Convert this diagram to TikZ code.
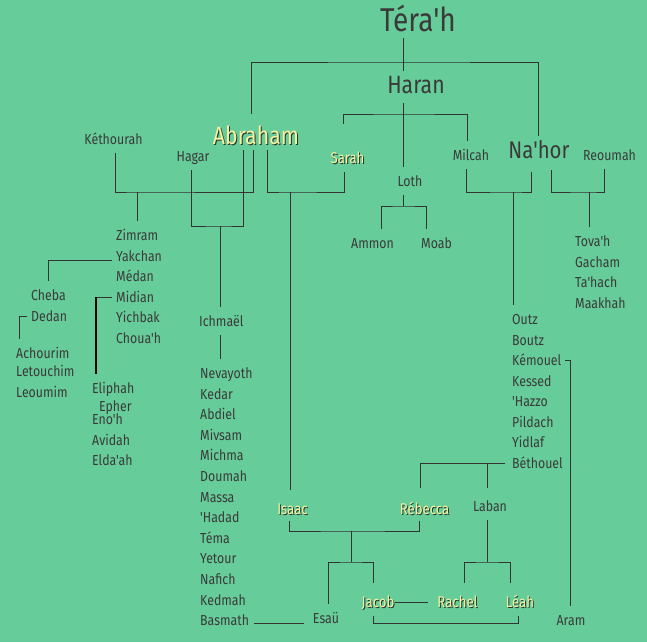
\documentclass[tikz,border=0pt]{standalone}
\usepackage{fontspec}
\setmainfont{Fira Sans}[FakeStretch=0.85,Ligatures=TeXOff]
\usetikzlibrary{positioning}
\definecolor{bgGreen}{HTML}{66CC99}
\definecolor{txtGray}{HTML}{3A3A3A}
\definecolor{lnGray}{HTML}{333333}
\definecolor{paleGold}{HTML}{F6F2A2}
\definecolor{shadeGray}{HTML}{26352A}
\newcommand\goldtext[1]{\makebox[0pt][l]{\hspace{1pt}\raisebox{-1pt}{\textcolor{shadeGray}{#1}}}\textcolor{paleGold}{#1}}
\tikzset{
    person/.style={font=\fontsize{14.5}{15}\selectfont, text=txtGray, inner xsep=0pt, inner ysep=9pt,
                 text height=10pt, text depth=0pt, anchor=base},
    kid/.style={person, anchor=base west},
    gold/.style={person, font=\fontsize{15.5}{16}\selectfont},
    big/.style={person, font=\fontsize{25}{26}\selectfont, text height=16pt, inner ysep=6pt},
    link/.style={draw=lnGray, line width=0.9pt},
    thick link/.style={draw=black, line width=1.8pt}
}
\begin{document}
\begin{tikzpicture}[x=1pt,y=-1pt]
\fill[bgGreen] (0,0) rectangle (647,642);
\useasboundingbox (0,0) rectangle (647,642);
% first generations
\node[big,font=\fontsize{33}{34}\selectfont] (tera) at (418,32) {Téra'h};
\node[big] (haran) at (416,93) {Haran};
\node[big] (abraham) at (256,144) {\goldtext{Abraham}};
\node[big,font=\fontsize{24}{25}\selectfont] (nahor) at (539,158) {Na'hor};
\node[person] (keth) at (113.5,144) {Kéthourah};
\node[person] (hagar) at (193,161) {Hagar};
\node[gold] (sarah) at (347.5,163) {\goldtext{Sarah}};
\node[person] (loth) at (410,186) {Loth};
\node[person] (milcah) at (471,160) {Milcah};
\node[person] (reoumah) at (609.5,160) {Reoumah};
\node[person] (ammon) at (372.5,248) {Ammon};
\node[person] (moab) at (436.5,248) {Moab};
% sons of Kethourah
\node[kid] (zimram) at (116,240) {Zimram};
\node[kid] (yakchan) at (116,261) {Yakchan};
\node[kid] (medan) at (116,281) {Médan};
\node[kid] (midian) at (116,302) {Midian};
\node[kid] (yichbak) at (116,322) {Yichbak};
\node[kid] (chouah) at (116,343) {Choua'h};
\node[kid] (cheba) at (31,300) {Cheba};
\node[kid] (dedan) at (31,321) {Dedan};
\node[kid] (achourim) at (16,358) {Achourim};
\node[kid] (letouchim) at (16,376) {Letouchim};
\node[kid] (leoumim) at (16,397) {Leoumim};
\node[kid] (eliphah) at (92,393) {Eliphah};
\node[kid] (epher) at (99,411) {Epher};
\node[kid] (enoh) at (92,424) {Eno'h};
\node[kid] (avidah) at (92,445) {Avidah};
\node[kid] (eldaah) at (92,465) {Elda'ah};
% sons of Ichmael
\node[kid] (ichmael) at (199,326) {Ichmaël};
\node[kid] (nevayoth) at (200,378) {Nevayoth};
\node[kid] (kedar) at (200,399) {Kedar};
\node[kid] (abdiel) at (200,419) {Abdiel};
\node[kid] (mivsam) at (200,440) {Mivsam};
\node[kid] (michma) at (200,460) {Michma};
\node[kid] (doumah) at (200,481) {Doumah};
\node[kid] (massa) at (200,502) {Massa};
\node[kid] (hadad) at (200,522) {'Hadad};
\node[kid] (tema) at (200,543) {Téma};
\node[kid] (yetour) at (200,563) {Yetour};
\node[kid] (nafich) at (200,584) {Nafich};
\node[kid] (kedmah) at (200,605) {Kedmah};
\node[kid] (basmath) at (200,625) {Basmath};
% sons of Nahor
\node[kid] (outz) at (512,324) {Outz};
\node[kid] (boutz) at (512,345) {Boutz};
\node[kid] (kemouel) at (512,365) {Kémouel};
\node[kid] (kessed) at (512,386) {Kessed};
\node[kid] (hazzo) at (512,406) {'Hazzo};
\node[kid] (pildach) at (512,427) {Pildach};
\node[kid] (yidlaf) at (512,447) {Yidlaf};
\node[kid] (bethouel) at (512,468) {Béthouel};
\node[kid] (tovah) at (575,246) {Tova'h};
\node[kid] (gacham) at (575,267) {Gacham};
\node[kid] (tahach) at (575,287) {Ta'hach};
\node[kid] (maakhah) at (575,308) {Maakhah};
\node[person] (aram) at (571,625) {Aram};
% Isaac and after
\node[gold] (isaac) at (292.5,514) {\goldtext{Isaac}};
\node[gold] (rebecca) at (424.5,514) {\goldtext{Rébecca}};
\node[person] (laban) at (490,511) {Laban};
\node[gold] (jacob) at (378,607) {\goldtext{Jacob}};
\node[gold] (rachel) at (457.5,607) {\goldtext{Rachel}};
\node[gold] (leah) at (520,607) {\goldtext{Léah}};
\node[person] (esau) at (326,623) {Esaü};

% junctions
\coordinate (tbar) at (403,62);
\coordinate (hbar) at (403,114);
\coordinate (lbar) at (403,206);
\coordinate (kbar) at (137,192);
\coordinate (gbar) at (220,226);
\coordinate (sbar) at (290,192);
\coordinate (nbar) at (513,192);
\coordinate (rbar) at (589,192);
\coordinate (ibar) at (351,531);
\coordinate (jbar) at (351,562);
\coordinate (bbar) at (487,463);
\coordinate (lbbar) at (487,562);

\draw[link] ([xshift=-15]tera.south) -- ([xshift=-13]haran.north);
\draw[link] ([xshift=-5,yshift=8]abraham.north) |- (tbar) -| ([xshift=-1]nahor.north);
\draw[link] ([xshift=-13,yshift=-4]haran.south) -- ([xshift=-7]loth.north);
\draw[link] ([xshift=-4.5,yshift=20]sarah.north) |- (hbar) -| ([xshift=-4]milcah.north);
\draw[link] ([xshift=-7]loth.south) -- (lbar);
\draw[link] ([xshift=8.5]ammon.north) |- (lbar) -| ([xshift=-10.5]moab.north);
% Abraham
\draw[link] ([xshift=1.5]keth.south) |- (kbar) -| ([xshift=-3]abraham.south);
\draw[link] (kbar) -- (zimram.north -| kbar);
\draw[link] ([xshift=-2]hagar.south) |- (gbar) -| ([xshift=-13]abraham.south);
\draw[link] (gbar) -- (ichmael.north -| gbar);
\draw[link] (ichmael.south -| gbar) -- (nevayoth.north -| gbar);
\draw[link] ([xshift=11]abraham.south) |- (sbar) -| ([xshift=-3.5]sarah.south);
\draw[link] (sbar) -- ([xshift=-2.5,yshift=5]isaac.north);
\draw[link] ([xshift=-4,yshift=-4]yakchan.west) -| (cheba.north);
\draw[link] ([xshift=-4]dedan.west) -| ([xshift=3]achourim.north west);
\draw[link] ([xshift=-4]midian.west) -| ([xshift=4]eliphah.north west);
\draw[thick link] ([xshift=4]eliphah.north west) -- ([xshift=4]eliphah.north west |- midian.west);
% Nahor
\draw[link] ([xshift=-5]milcah.south) |- (nbar) -| ([xshift=-8,yshift=-8]nahor.south);
\draw[link] (nbar) -- (outz.north -| nbar);
\draw[link] ([xshift=12,yshift=-6]nahor.south) |- (rbar) -| ([xshift=-5.5]reoumah.south);
\draw[link] (rbar) -- (tovah.north -| rbar);
\draw[link] ([xshift=4]kemouel.east) -| ([xshift=-1]aram.north);
\draw[link] ([xshift=-7]bethouel.west) -| ([xshift=-4.5,yshift=7]rebecca.north);
\draw[link] (bbar) -- ([xshift=-3,yshift=4]laban.north);
% Isaac
\draw[link] ([xshift=-3.5,yshift=2]isaac.south) |- (ibar) -| ([xshift=-5.5,yshift=2]rebecca.south);
\draw[link] (ibar) -- (jbar);
\draw[link] ([xshift=2]esau.north) |- (jbar) -| ([xshift=-5,yshift=5]jacob.north);
\draw[link] (laban.south -| lbbar) -- (lbbar);
\draw[link] ([xshift=6.5,yshift=5]rachel.north) |- (lbbar) -| ([xshift=-10,yshift=5]leah.north);
\draw[link] (jacob.east) -- ([xshift=-9]rachel.west);
\draw[link] ([xshift=-5]jacob.south) -- ++(0,7) -| ([xshift=-2]leah.south);
\draw[link] ([xshift=5,yshift=-3]basmath.east) -- ([xshift=-9,yshift=-5]esau.west);
\end{tikzpicture}
\end{document}
